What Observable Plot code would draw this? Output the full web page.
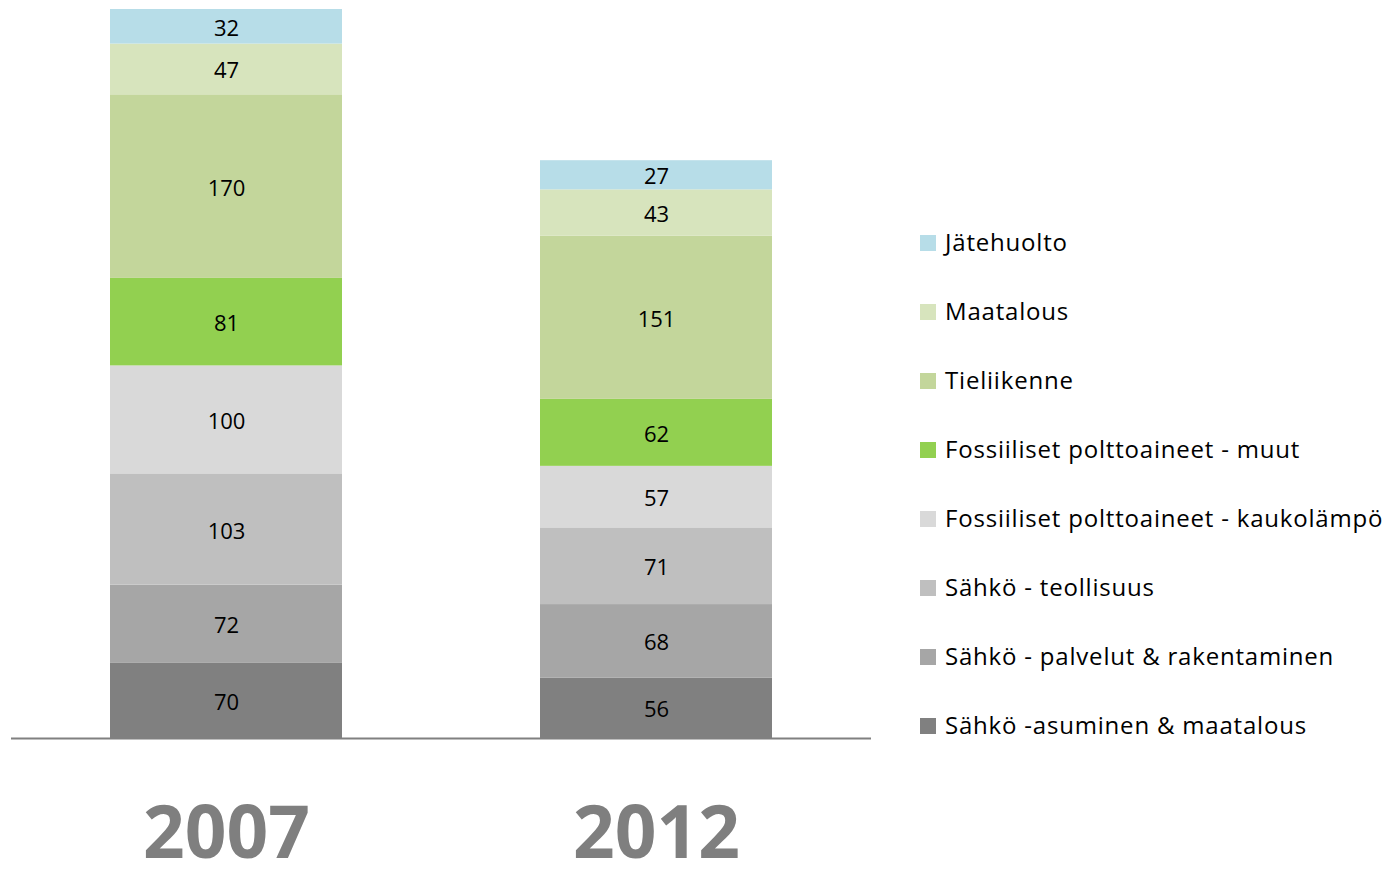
<!DOCTYPE html>
<html>
<head>
<meta charset="utf-8">
<script src="https://cdn.jsdelivr.net/npm/d3@7"></script>
<script src="https://cdn.jsdelivr.net/npm/@observablehq/plot@0.6"></script>
<style>
  html, body { margin: 0; padding: 0; background: #fff; }
  #wrap { position: relative; width: 1396px; height: 880px; font-family: "Open Sans", sans-serif; }
  #legend { position: absolute; left: 920px; top: 226px; }
  .item { height: 69px; display: flex; align-items: flex-start; font-size: 24px; letter-spacing: 0.8px; color: #000; line-height: 32px; white-space: nowrap; }
  .sw { width: 16px; height: 16px; margin-right: 9px; margin-top: 9px; flex: none; }
</style>
</head>
<body>
<div id="wrap"><div id="chart"></div><div id="legend"></div></div>
<script>
const years = ["2007", "2012"];
// bottom to top
const categories = [
  "Sähkö -asuminen & maatalous",
  "Sähkö - palvelut & rakentaminen",
  "Sähkö - teollisuus",
  "Fossiiliset polttoaineet - kaukolämpö",
  "Fossiiliset polttoaineet - muut",
  "Tieliikenne",
  "Maatalous",
  "Jätehuolto"
];
const colors = ["#808080", "#a6a6a6", "#bfbfbf", "#d9d9d9", "#92d050", "#c3d69b", "#d7e4bd", "#b7dde8"];
const values2007 = [70, 72, 103, 100, 81, 170, 47, 32];
const values2012 = [56, 68, 71, 57, 62, 151, 43, 27];

const data = [];
categories.forEach((c, i) => {
  data.push({year: "2007", cat: c, idx: i, value: values2007[i]});
  data.push({year: "2012", cat: c, idx: i, value: values2012[i]});
});
const total2007 = d3.sum(values2007);

const stackOpts = {x: "year", y: "value", order: (d) => d.idx};
const chart = Plot.plot({
  width: 1396,
  height: 880,
  marginLeft: 11,
  marginRight: 525,
  marginTop: 9,
  marginBottom: 142,
  style: {fontFamily: "Open Sans, sans-serif", background: "#fff"},
  x: {domain: years, paddingInner: 0.4605, paddingOuter: 0.2302, label: null},
  y: {domain: [0, total2007], axis: null},
  color: {domain: categories, range: colors},
  marks: [
    Plot.barY(data, Plot.stackY({...stackOpts, fill: "cat"})),
    Plot.text(data, Plot.stackY({...stackOpts, text: (d) => String(d.value), fill: "#000", fontSize: 22, dy: 2})),
    Plot.ruleY([0], {stroke: "#808080", strokeWidth: 2}),
    Plot.axisX({tickSize: 0, tickPadding: 68, fontSize: 73, fontWeight: "bold", fill: "#7f7f7f", label: null})
  ]
});
document.getElementById("chart").appendChild(chart);

const legend = document.getElementById("legend");
categories.slice().reverse().forEach((c) => {
  const i = categories.indexOf(c);
  const row = document.createElement("div");
  row.className = "item";
  const sw = document.createElement("span");
  sw.className = "sw";
  sw.style.background = colors[i];
  const t = document.createElement("span");
  t.textContent = c;
  row.appendChild(sw);
  row.appendChild(t);
  legend.appendChild(row);
});
</script>
</body>
</html>
